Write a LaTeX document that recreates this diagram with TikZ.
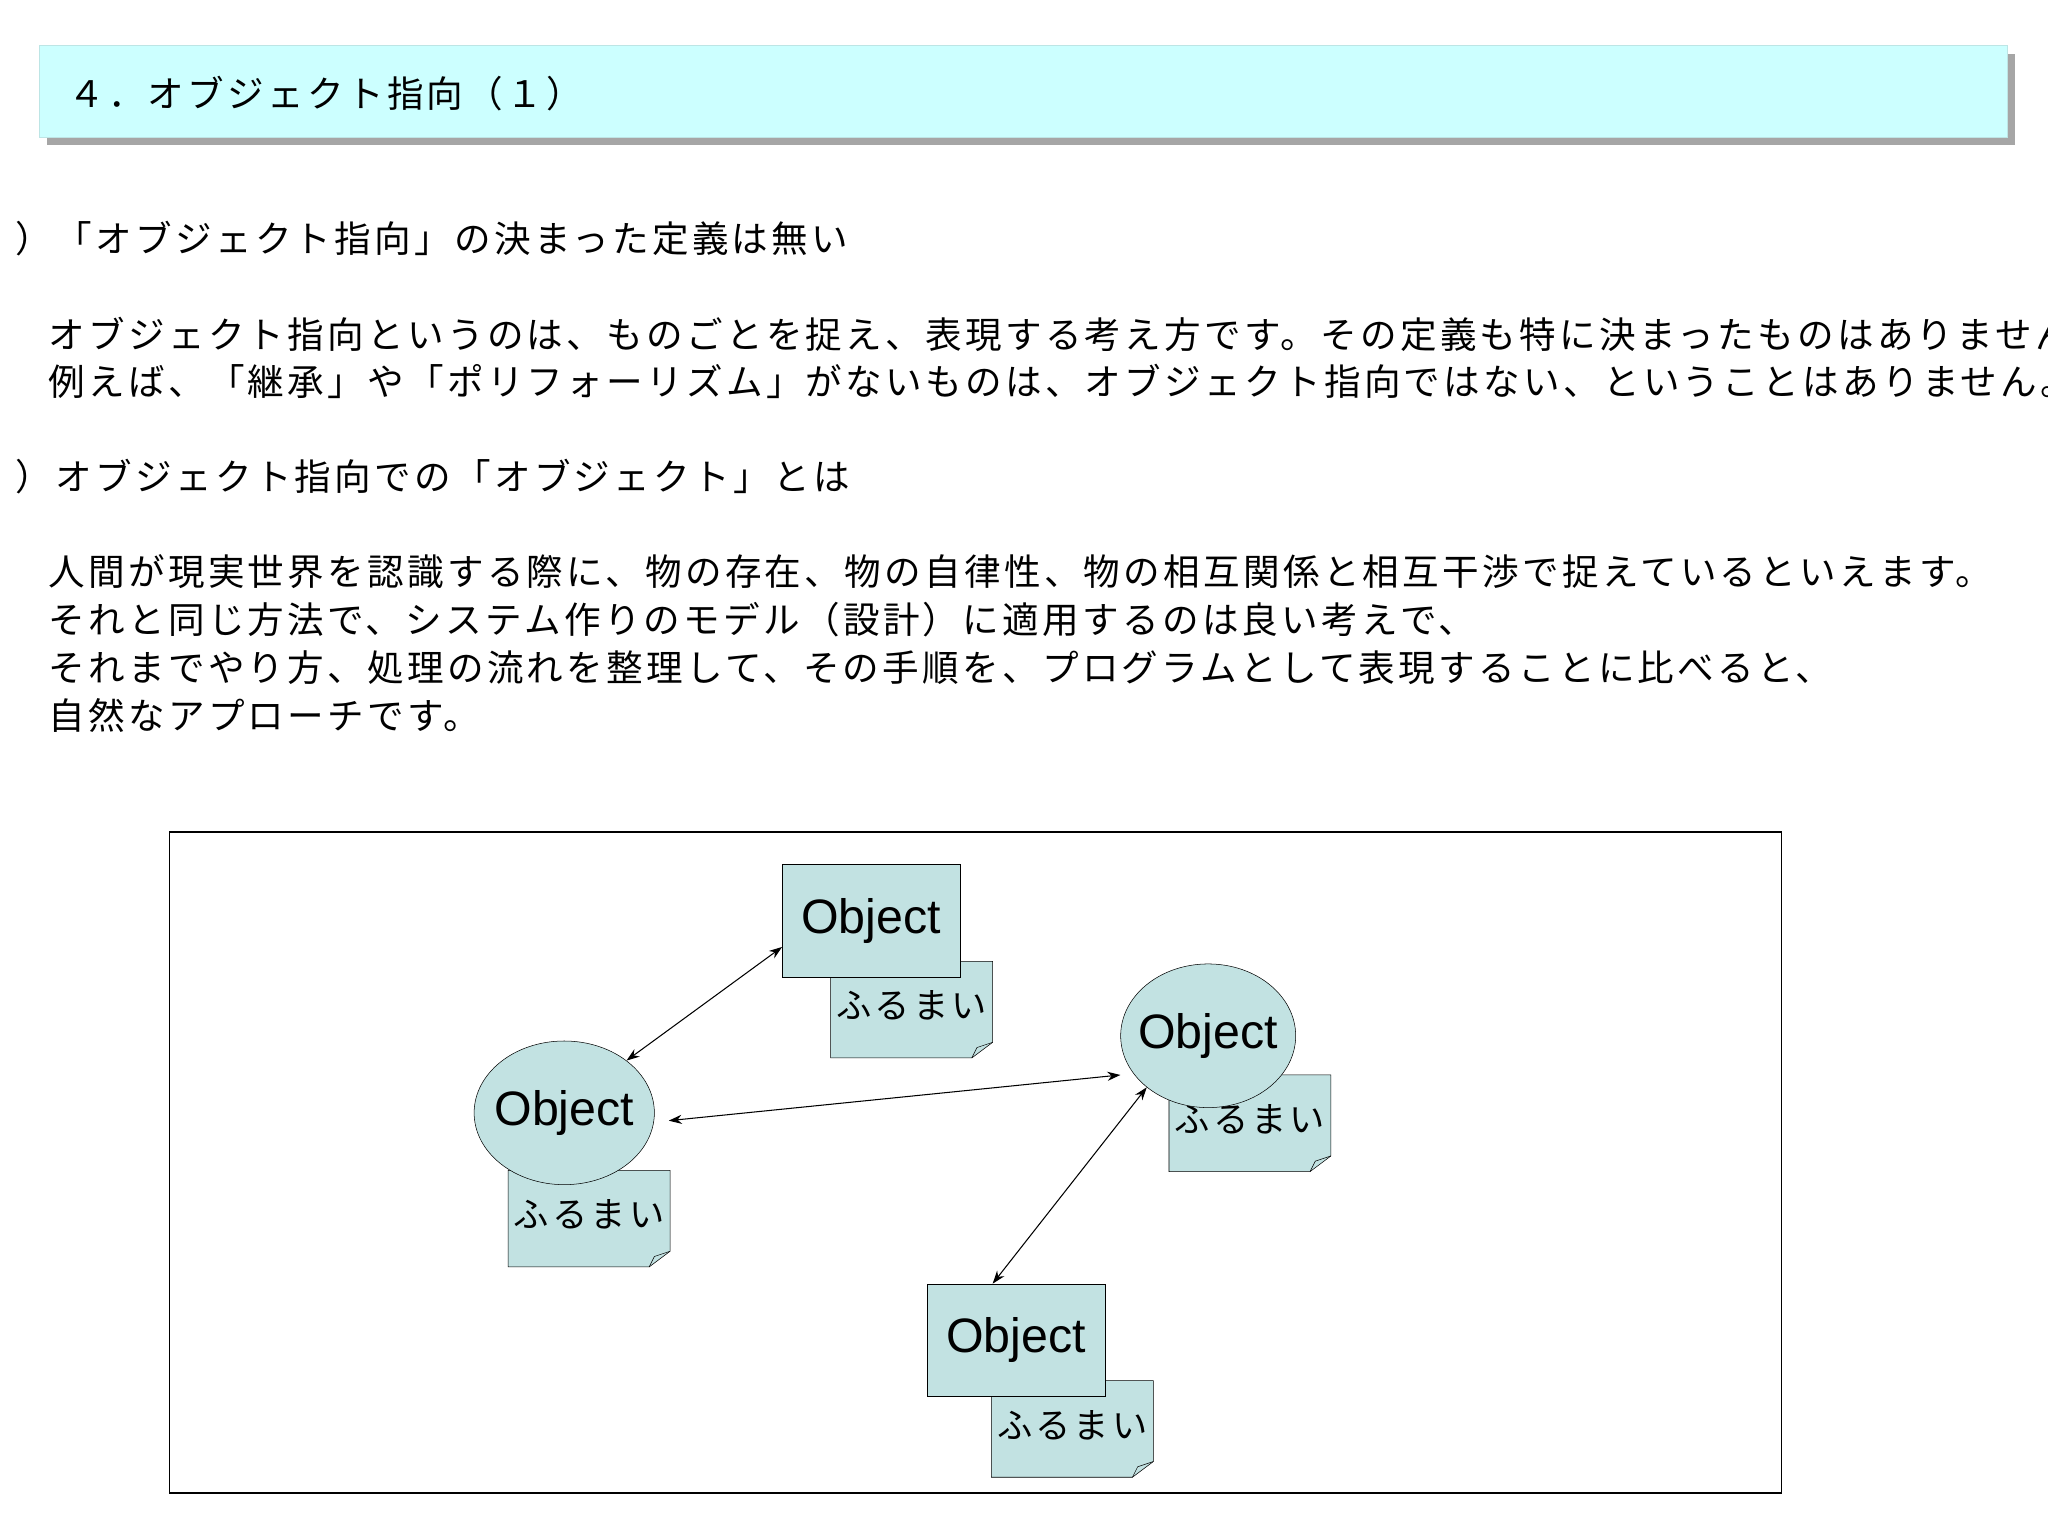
\documentclass[tikz,border=0pt]{standalone}
\usepackage{fontspec}
\setmainfont{Liberation Sans}
\newfontfamily\cjk[LetterSpace=9]{Noto Sans CJK JP}
\usetikzlibrary{shapes.geometric,arrows.meta}
\definecolor{titlec}{HTML}{CCFFFF}
\definecolor{objc}{HTML}{C2E2E2}
\begin{document}
\begin{tikzpicture}[x=1pt,y=-1pt,
  body/.style={anchor=west,inner sep=0pt,font=\cjk\fontsize{28}{30}\selectfont},
  obj/.style={draw,fill=objc,font=\fontsize{37}{40}\selectfont,inner sep=0pt},
  note/.style={draw,fill=objc},
  notetxt/.style={font=\cjk\fontsize{27}{29}\selectfont,inner sep=0pt},
  conn/.style={{Stealth[length=10pt,width=7pt]}-{Stealth[length=10pt,width=7pt]},line width=0.8pt}]
\useasboundingbox (0,0) rectangle (1568,1176);
% title
\fill[gray!70] (36,41) rectangle (1543,111);
\draw[fill=titlec,draw=titlec!80!gray] (30,35) rectangle (1537,105);
\node[body] (title) at (52,72) {４．オブジェクト指向（１）};
% text
\node[body] (l1) at (12,183) {）「オブジェクト指向」の決まった定義は無い};
\node[body] (l2) at (37,256) {オブジェクト指向というのは、ものごとを捉え、表現する考え方です。その定義も特に決まったものはありません。};
\node[body] (l3) at (37,292) {例えば、「継承」や「ポリフォーリズム」がないものは、オブジェクト指向ではない、ということはありません。};
\node[body] (l4) at (12,365) {）オブジェクト指向での「オブジェクト」とは};
\node[body] (l5) at (37,438) {人間が現実世界を認識する際に、物の存在、物の自律性、物の相互関係と相互干渉で捉えているといえます。};
\node[body] (l6) at (37,474) {それと同じ方法で、システム作りのモデル（設計）に適用するのは良い考えで、};
\node[body] (l7) at (37,511) {それまでやり方、処理の流れを整理して、その手順を、プログラムとして表現することに比べると、};
\node[body] (l8) at (37,548) {自然なアプローチです。};
% frame
\draw[line width=1pt] (130,637) rectangle (1364,1143);
% notes
\foreach \x/\y/\n in {636/736/nt,895/823/nr,389/896/nl,759/1057/nb}{
  \draw[note] (\x,\y) -- ++(124,0) -- ++(0,62) -- ++(-16,12) -- ++(-108,0) -- cycle;
  \draw (\x+108,\y+74) -- (\x+112,\y+66) -- (\x+124,\y+62);
}
\node[notetxt] (ntt) at (698,770) {ふるまい};
\node[notetxt] (nrt) at (957,857) {ふるまい};
\node[notetxt] (nlt) at (451,930) {ふるまい};
\node[notetxt] (nbt) at (821,1091) {ふるまい};
% objects
\node[obj,rectangle,minimum width=136pt,minimum height=86pt] (top) at (667,705) {Object};
\node[obj,ellipse,inner xsep=-17pt,minimum width=134pt,minimum height=110pt] (right) at (925,793) {Object};
\node[obj,ellipse,inner xsep=-17pt,minimum width=138pt,minimum height=110pt] (left) at (432,852) {Object};
\node[obj,rectangle,minimum width=136pt,minimum height=86pt] (bot) at (778,1026) {Object};
% connectors
\draw[conn] (left.40) -- (top.west |- 0,725);
\draw[conn] (512,858) -- (right.west |- 0,823);
\draw[conn] (right.220) -- (bot.north -| 760,0);
\end{tikzpicture}
\end{document}
